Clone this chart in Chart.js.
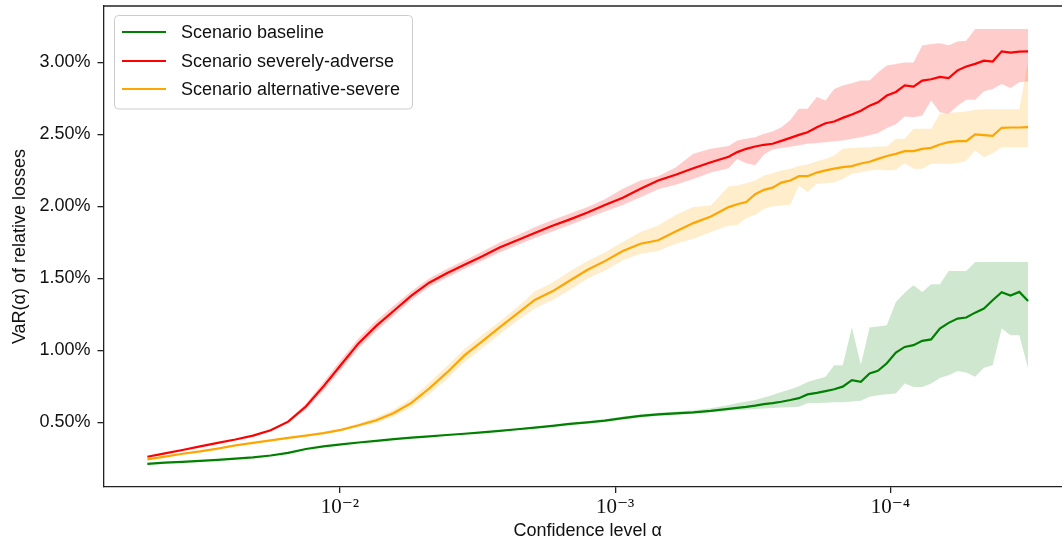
<!DOCTYPE html>
<html>
<head>
<meta charset="utf-8">
<title>VaR por nivel de confianca</title>
<script src="https://cdn.jsdelivr.net/npm/chart.js@4.4.0/dist/chart.umd.min.js"></script>
<style>
  html, body { margin: 0; padding: 0; background: #fff; overflow: hidden; }
  #wrap { width: 1062px; height: 548px; overflow: hidden; }
  #grafico { display: block; }
</style>
</head>
<body>
<div id="wrap"><canvas id="grafico" width="1072" height="548"></canvas></div>
<script>
// confidence levels (x axis, log scale, reversed)
var alpha = [0.0501, 0.04325, 0.03733, 0.03221, 0.0278, 0.02399, 0.0207, 0.01786, 0.01542, 0.0133, 0.01148, 0.00991, 0.00855, 0.00738, 0.00637, 0.0055, 0.00474, 0.00409, 0.00353, 0.00305, 0.00263, 0.00227, 0.00196, 0.00169, 0.00146, 0.00126, 0.00109, 9.38e-4, 8.09e-4, 6.98e-4, 6.03e-4, 5.2e-4, 4.49e-4, 3.87e-4,
  3.6e-4, 3.34e-4, 3.1e-4, 2.88e-4, 2.68e-4, 2.49e-4, 2.31e-4, 2.15e-4, 2.0e-4, 1.85e-4, 1.72e-4, 1.6e-4, 1.49e-4, 1.38e-4, 1.28e-4, 1.19e-4, 1.11e-4, 1.03e-4, 9.55e-5, 8.87e-5, 8.24e-5, 7.66e-5, 7.11e-5, 6.61e-5, 6.14e-5, 5.7e-5, 5.3e-5, 4.92e-5, 4.57e-5, 4.25e-5, 3.94e-5, 3.66e-5, 3.4e-5, 3.16e-5];

// VaR in percent
var baseline = [0.211, 0.220, 0.226, 0.233, 0.240, 0.248, 0.257, 0.270, 0.288, 0.315, 0.333, 0.347, 0.360, 0.372, 0.384, 0.394, 0.403, 0.412, 0.421, 0.431, 0.441, 0.452, 0.464, 0.476, 0.490, 0.500, 0.512, 0.530, 0.545, 0.555, 0.563, 0.570, 0.580, 0.594,
  0.600, 0.607, 0.616, 0.627, 0.634, 0.643, 0.655, 0.668, 0.694, 0.705, 0.717, 0.730, 0.748, 0.793, 0.782, 0.840, 0.858, 0.910, 0.985, 1.024, 1.036, 1.066, 1.076, 1.152, 1.191, 1.221, 1.228, 1.262, 1.290, 1.348, 1.404, 1.381, 1.406, 1.343];
var baselineHigh = [0.214, 0.223, 0.229, 0.236, 0.243, 0.251, 0.260, 0.273, 0.291, 0.318, 0.336, 0.350, 0.363, 0.375, 0.387, 0.397, 0.407, 0.416, 0.425, 0.435, 0.446, 0.457, 0.470, 0.482, 0.497, 0.508, 0.520, 0.540, 0.555, 0.566, 0.575, 0.583, 0.598, 0.620,
  0.635, 0.645, 0.655, 0.672, 0.690, 0.710, 0.730, 0.750, 0.780, 0.800, 0.816, 0.897, 0.897, 1.159, 0.900, 1.159, 1.165, 1.175, 1.336, 1.400, 1.452, 1.406, 1.459, 1.459, 1.551, 1.551, 1.551, 1.614, 1.614, 1.614, 1.614, 1.614, 1.614, 1.614];
var baselineLow = [0.208, 0.217, 0.223, 0.230, 0.237, 0.245, 0.254, 0.267, 0.285, 0.312, 0.330, 0.344, 0.357, 0.369, 0.381, 0.391, 0.399, 0.408, 0.417, 0.427, 0.436, 0.447, 0.458, 0.470, 0.483, 0.492, 0.504, 0.520, 0.535, 0.545, 0.553, 0.560, 0.572, 0.582,
  0.585, 0.588, 0.592, 0.596, 0.600, 0.603, 0.605, 0.608, 0.632, 0.635, 0.637, 0.639, 0.640, 0.645, 0.650, 0.678, 0.688, 0.696, 0.700, 0.770, 0.745, 0.745, 0.770, 0.808, 0.828, 0.856, 0.846, 0.816, 0.880, 0.897, 1.152, 1.105, 1.105, 0.874];

var severo = [0.261, 0.285, 0.308, 0.333, 0.357, 0.381, 0.408, 0.445, 0.505, 0.61, 0.75, 0.90, 1.05, 1.17, 1.275, 1.38, 1.47, 1.535, 1.595, 1.652, 1.715, 1.765, 1.815, 1.865, 1.91, 1.957, 2.01, 2.06, 2.122, 2.18, 2.22, 2.265, 2.307, 2.345,
  2.377, 2.40, 2.416, 2.428, 2.435, 2.455, 2.476, 2.497, 2.515, 2.55, 2.578, 2.59, 2.615, 2.638, 2.665, 2.70, 2.723, 2.77, 2.795, 2.84, 2.832, 2.874, 2.883, 2.90, 2.892, 2.945, 2.972, 2.99, 3.012, 3.006, 3.077, 3.068, 3.075, 3.077];
var severoHigh = [0.263, 0.287, 0.310, 0.335, 0.359, 0.383, 0.411, 0.45, 0.515, 0.63, 0.78, 0.935, 1.085, 1.205, 1.31, 1.41, 1.50, 1.565, 1.625, 1.685, 1.75, 1.80, 1.855, 1.905, 1.95, 1.995, 2.05, 2.122, 2.18, 2.21, 2.27, 2.365, 2.40, 2.42,
  2.458, 2.47, 2.48, 2.505, 2.52, 2.55, 2.60, 2.678, 2.678, 2.76, 2.735, 2.816, 2.84, 2.855, 2.874, 2.874, 2.93, 2.978, 2.99, 3.0, 3.0, 3.117, 3.128, 3.133, 3.12, 3.146, 3.151, 3.232, 3.232, 3.232, 3.232, 3.232, 3.232, 3.232];
var severoLow = [0.259, 0.283, 0.306, 0.331, 0.355, 0.379, 0.405, 0.44, 0.495, 0.59, 0.72, 0.865, 1.015, 1.135, 1.24, 1.35, 1.44, 1.505, 1.565, 1.62, 1.68, 1.73, 1.78, 1.825, 1.87, 1.92, 1.965, 2.01, 2.064, 2.12, 2.15, 2.19, 2.235, 2.265,
  2.33, 2.30, 2.285, 2.36, 2.395, 2.405, 2.415, 2.425, 2.435, 2.44, 2.445, 2.452, 2.458, 2.47, 2.48, 2.495, 2.51, 2.545, 2.57, 2.624, 2.62, 2.631, 2.735, 2.654, 2.643, 2.70, 2.74, 2.74, 2.80, 2.816, 2.851, 2.823, 2.862, 2.87];

var alternativo = [0.243, 0.262, 0.282, 0.298, 0.318, 0.340, 0.358, 0.375, 0.392, 0.408, 0.425, 0.448, 0.48, 0.515, 0.565, 0.635, 0.735, 0.845, 0.965, 1.06, 1.16, 1.255, 1.35, 1.41, 1.485, 1.56, 1.62, 1.69, 1.741, 1.765, 1.825, 1.884, 1.93, 1.995,
  2.015, 2.03, 2.085, 2.115, 2.13, 2.165, 2.18, 2.21, 2.21, 2.235, 2.25, 2.262, 2.273, 2.28, 2.298, 2.31, 2.33, 2.35, 2.365, 2.384, 2.384, 2.40, 2.407, 2.43, 2.446, 2.453, 2.453, 2.50, 2.495, 2.49, 2.546, 2.548, 2.548, 2.55];
var alternativoHigh = [0.245, 0.264, 0.284, 0.300, 0.320, 0.342, 0.360, 0.378, 0.396, 0.413, 0.431, 0.456, 0.492, 0.535, 0.59, 0.665, 0.775, 0.89, 1.01, 1.105, 1.20, 1.30, 1.41, 1.47, 1.55, 1.62, 1.68, 1.752, 1.822, 1.868, 1.94, 1.995, 2.007, 2.14,
  2.146, 2.16, 2.18, 2.215, 2.23, 2.25, 2.261, 2.28, 2.291, 2.314, 2.33, 2.354, 2.40, 2.405, 2.41, 2.411, 2.416, 2.416, 2.47, 2.47, 2.54, 2.54, 2.54, 2.643, 2.648, 2.654, 2.66, 2.671, 2.675, 2.675, 2.675, 2.675, 2.675, 3.012];
var alternativoLow = [0.241, 0.260, 0.280, 0.296, 0.316, 0.338, 0.356, 0.372, 0.388, 0.403, 0.419, 0.440, 0.468, 0.495, 0.54, 0.605, 0.695, 0.80, 0.92, 1.015, 1.11, 1.205, 1.29, 1.35, 1.42, 1.50, 1.555, 1.626, 1.672, 1.69, 1.741, 1.776, 1.822, 1.868,
  1.87, 1.92, 1.94, 1.984, 2.0, 2.007, 2.014, 2.146, 2.10, 2.157, 2.16, 2.168, 2.19, 2.227, 2.238, 2.25, 2.255, 2.25, 2.255, 2.30, 2.262, 2.262, 2.296, 2.296, 2.296, 2.30, 2.319, 2.388, 2.342, 2.37, 2.411, 2.411, 2.411, 2.411];

// tick labels
var xTicks = [1e-2, 1e-3, 1e-4];
var xTickLabels = ['10\u207B\u00B2', '10\u207B\u00B3', '10\u207B\u2074'];
var yTicks = [0.5, 1.0, 1.5, 2.0, 2.5, 3.0];

var nomes = ['Scenario baseline', 'Scenario severely-adverse', 'Scenario alternative-severe'];
var cores = ['#008000', '#ff0000', '#ffa500'];
var coresFaixa = ['rgba(0,128,0,0.19)', 'rgba(255,0,0,0.2)', 'rgba(255,165,0,0.2)'];

var fonte = "'Liberation Sans', Arial, sans-serif";
var corTexto = '#111';

function pontos(valores) {
  return alpha.map(function (a, i) { return { x: a, y: valores[i] }; });
}

function linha(i, valores) {
  return { label: nomes[i], data: pontos(valores), borderColor: cores[i], backgroundColor: cores[i],
    borderWidth: 2.2, pointRadius: 0, tension: 0, fill: false };
}

function faixa(i, valores, fill) {
  return { label: '', data: pontos(valores), borderColor: 'rgba(0,0,0,0)', backgroundColor: coresFaixa[i],
    borderWidth: 0, pointRadius: 0, tension: 0, fill: fill };
}

// legend box drawn inside the plot, upper left
var legenda = {
  id: 'legenda',
  afterDraw: function (chart) {
    var ctx = chart.ctx;
    ctx.save();
    ctx.beginPath();
    ctx.roundRect(114.5, 15.5, 298, 93.5, 4);
    ctx.fillStyle = 'rgba(255,255,255,0.8)';
    ctx.fill();
    ctx.strokeStyle = '#cccccc';
    ctx.lineWidth = 1;
    ctx.stroke();
    var ys = [32, 61, 89];
    ctx.font = '18px ' + fonte;
    ctx.textBaseline = 'middle';
    ctx.textAlign = 'left';
    for (var i = 0; i < 3; i++) {
      ctx.beginPath();
      ctx.moveTo(122, ys[i]);
      ctx.lineTo(166, ys[i]);
      ctx.strokeStyle = cores[i];
      ctx.lineWidth = 2.2;
      ctx.stroke();
      ctx.fillStyle = corTexto;
      ctx.fillText(nomes[i], 181, ys[i] + 1);
    }
    ctx.restore();
  }
};

// top spine
var moldura = {
  id: 'moldura',
  afterDraw: function (chart) {
    var a = chart.chartArea, ctx = chart.ctx;
    ctx.save();
    ctx.strokeStyle = '#222';
    ctx.lineWidth = 1.3;
    ctx.beginPath();
    ctx.moveTo(a.left, a.top);
    ctx.lineTo(a.right, a.top);
    ctx.stroke();
    ctx.restore();
  }
};

var ctx = document.getElementById('grafico').getContext('2d');
var grafico = new Chart(ctx, {
  type: 'line',
  data: {
    datasets: [
      linha(0, baseline), linha(1, severo), linha(2, alternativo),
      faixa(0, baselineLow, false), faixa(0, baselineHigh, '-1'),
      faixa(1, severoLow, false), faixa(1, severoHigh, '-1'),
      faixa(2, alternativoLow, false), faixa(2, alternativoHigh, '-1')
    ]
  },
  options: {
    responsive: false,
    animation: false,
    events: [],
    layout: { padding: { top: 6, right: 0, bottom: 0, left: 0 } },
    plugins: {
      legend: { display: false },
      tooltip: { enabled: false }
    },
    scales: {
      x: {
        type: 'logarithmic',
        reverse: true,
        min: 2.188e-5,
        max: 0.0723,
        afterBuildTicks: function (scale) {
          scale.ticks = xTicks.map(function (v) { return { value: v, major: true }; });
        },
        afterFit: function (scale) {
          scale.height = 61;
          scale.paddingLeft = 0;
          scale.paddingRight = 0;
        },
        ticks: {
          autoSkip: false,
          maxRotation: 0,
          minRotation: 0,
          padding: 2,
          color: corTexto,
          font: { family: "'Liberation Serif', 'DejaVu Serif', serif", size: 21 },
          callback: function (value) {
            var i = xTicks.indexOf(value);
            return i >= 0 ? xTickLabels[i] : '';
          }
        },
        grid: { display: true, drawOnChartArea: false, drawTicks: true, tickLength: 6, color: '#222', lineWidth: 1.3 },
        border: { display: true, color: '#222', width: 1.3 },
        title: {
          display: true,
          text: 'Confidence level \u03B1',
          color: corTexto,
          font: { family: fonte, size: 18 },
          padding: { top: 0, bottom: 6 }
        }
      },
      y: {
        type: 'linear',
        min: 0.051,
        max: 3.392,
        afterBuildTicks: function (scale) {
          scale.ticks = yTicks.map(function (v) { return { value: v }; });
        },
        afterFit: function (scale) {
          scale.width = 103.5;
          scale.paddingTop = 0;
          scale.paddingBottom = 0;
        },
        ticks: {
          padding: 7,
          color: corTexto,
          font: { family: fonte, size: 18 },
          callback: function (value) { return value.toFixed(2) + '%'; }
        },
        grid: { display: true, drawOnChartArea: false, drawTicks: true, tickLength: 6, color: '#222', lineWidth: 1.3 },
        border: { display: true, color: '#222', width: 1.3 },
        title: {
          display: true,
          text: 'VaR(\u03B1) of relative losses',
          color: corTexto,
          font: { family: fonte, size: 18 },
          padding: { top: 9, bottom: 0 }
        }
      }
    }
  },
  plugins: [legenda, moldura]
});
</script>
</body>
</html>
